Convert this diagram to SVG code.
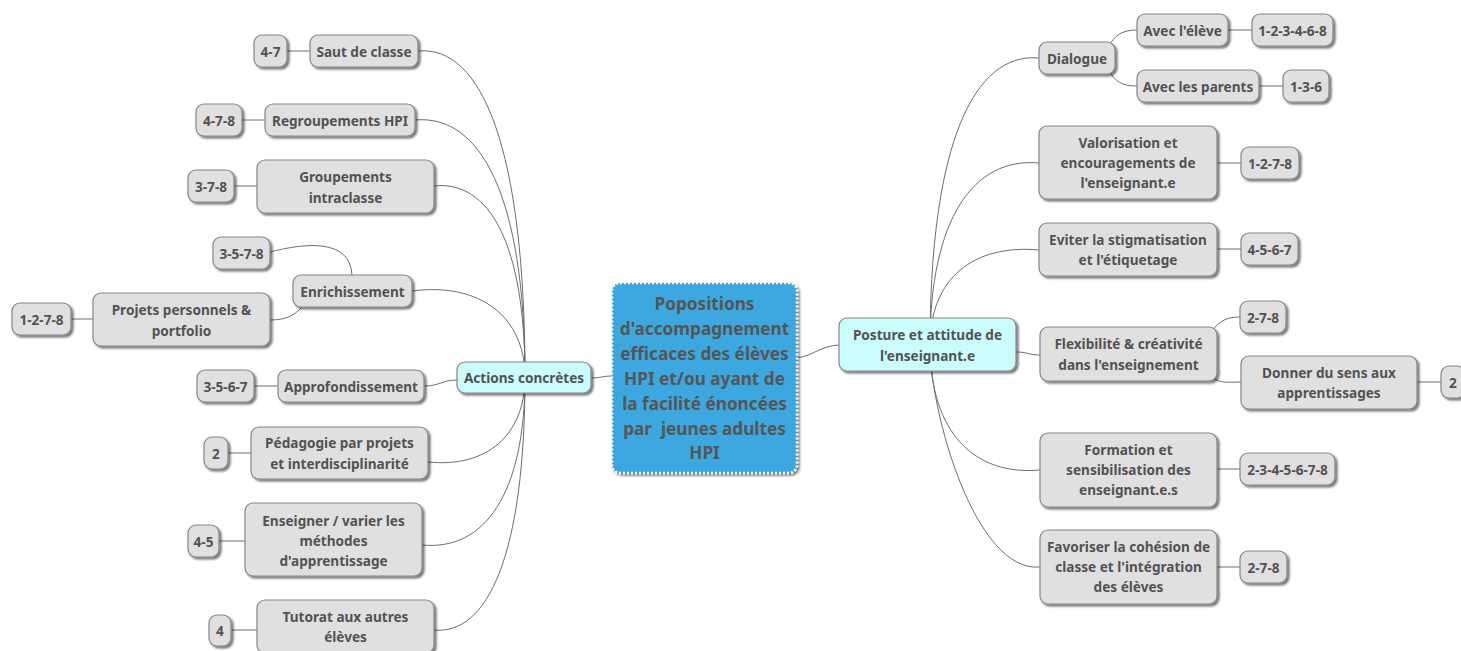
<svg xmlns="http://www.w3.org/2000/svg" width="1461" height="651" viewBox="0 0 1461 651">
<defs>
<filter id="sh" x="-10%" y="-10%" width="130%" height="140%">
<feDropShadow dx="2" dy="2" stdDeviation="1.2" flood-color="#000" flood-opacity="0.55"/>
</filter>
<style>
.n{fill:#e0e0e0;stroke:#858585;stroke-width:1.2;filter:url(#sh)}
.m{fill:#ccfdfd;stroke:#858585;stroke-width:1.2;filter:url(#sh)}
.c{fill:#3ea8df;stroke:#ffffff;stroke-width:2.5;stroke-dasharray:2 2;filter:url(#sh)}
text{font-family:"Noto Sans","Open Sans",sans-serif;font-weight:bold;font-size:13.6px;fill:#525252;text-anchor:middle;dominant-baseline:central}
.ct{font-size:17.2px;fill:#555}
#connectors path{fill:none;stroke:#6e6e6e;stroke-width:1}
</style>
</defs>
<rect width="1461" height="651" fill="#ffffff"/>
<g id="connectors">
<path d="M591,378 C600,378 603,376 612,376"/>
<path d="M797,358 C815,355 820,346 839,345"/>
<path d="M418,51 C482,45 525,149 525,377"/>
<path d="M415,120 C481,114 525,197 525,377"/>
<path d="M434,186 C489,180 525,243 525,377"/>
<path d="M412,291 C480,282 525,317 525,377"/>
<path d="M424,386 C440,386 442,380 457,380"/>
<path d="M428,462 C486,468 525,436 525,377"/>
<path d="M422,545 C484,551 525,495 525,377"/>
<path d="M433,630 C488,636 525,554 525,377"/>
<path d="M287,51 L310,51"/>
<path d="M242,120 L265,120"/>
<path d="M234,186 L257,186"/>
<path d="M270,252 C305,243 350,238 352,275"/>
<path d="M270,320 C286,320 295,315 302,307"/>
<path d="M71,319 L93,319"/>
<path d="M254,386 L278,386"/>
<path d="M228,453 L251,453"/>
<path d="M219,541 L245,541"/>
<path d="M231,630 L257,630"/>
<path d="M1039,58 C974,52 930,144 930,345"/>
<path d="M1039,163 C974,157 930,218 930,345"/>
<path d="M1039,250 C974,244 930,278 930,345"/>
<path d="M1016,352 C1028,352 1028,355 1040,355"/>
<path d="M1040,470 C975,476 930,433 930,345"/>
<path d="M1040,567 C975,573 930,412 930,345"/>
<path d="M1108,47 C1115,35 1122,30 1137,30"/>
<path d="M1108,69 C1115,82 1122,86 1137,86"/>
<path d="M1228,30 L1252,30"/>
<path d="M1259,86 L1283,86"/>
<path d="M1217,163 L1241,163"/>
<path d="M1217,249 L1241,249"/>
<path d="M1212,331 C1220,320 1228,317 1240,317"/>
<path d="M1212,377 C1220,384 1228,382 1241,382"/>
<path d="M1417,382 L1441,382"/>
<path d="M1217,469 L1240,469"/>
<path d="M1217,567 L1240,567"/>
</g>
<g id="central"><rect class="c" x="612" y="283" width="185" height="190" rx="8"/>
<text class="ct" x="704.5" y="303">Popositions</text>
<text class="ct" x="704.5" y="328">d'accompagnement</text>
<text class="ct" x="704.5" y="353">efficaces des élèves</text>
<text class="ct" x="704.5" y="378">HPI et/ou ayant de</text>
<text class="ct" x="704.5" y="403">la facilité énoncées</text>
<text class="ct" x="704.5" y="428" xml:space="preserve">par  jeunes adultes</text>
<text class="ct" x="704.5" y="452">HPI</text></g>
<g id="actions"><rect class="m" x="457" y="362" width="134" height="31" rx="8"/><text x="524" y="377.5">Actions concrètes</text></g>
<g id="posture"><rect class="m" x="839" y="318" width="177" height="53" rx="8"/><text x="927.5" y="334">Posture et attitude de</text><text x="927.5" y="355">l'enseignant.e</text></g>
<g id="saut"><rect class="n" x="310" y="35" width="108" height="32" rx="8"/><text x="364" y="51">Saut de classe</text></g>
<g id="saut-ref"><rect class="n" x="254" y="35" width="33" height="32" rx="8"/><text x="270.5" y="51">4-7</text></g>
<g id="regroup"><rect class="n" x="265" y="104" width="150" height="32" rx="8"/><text x="340" y="120">Regroupements HPI</text></g>
<g id="regroup-ref"><rect class="n" x="196" y="104" width="46" height="32" rx="8"/><text x="219" y="120">4-7-8</text></g>
<g id="groupements"><rect class="n" x="257" y="160" width="177" height="53" rx="8"/><text x="345.5" y="176">Groupements</text><text x="345.5" y="197">intraclasse</text></g>
<g id="groupements-ref"><rect class="n" x="188" y="170" width="46" height="32" rx="8"/><text x="211" y="186">3-7-8</text></g>
<g id="enrich"><rect class="n" x="293" y="275" width="119" height="32" rx="8"/><text x="352.5" y="291">Enrichissement</text></g>
<g id="enrich-ref"><rect class="n" x="213" y="237" width="57" height="32" rx="8"/><text x="241.5" y="253">3-5-7-8</text></g>
<g id="projets"><rect class="n" x="93" y="293" width="177" height="53" rx="8"/><text x="181.5" y="309">Projets personnels &amp;</text><text x="181.5" y="330">portfolio</text></g>
<g id="projets-ref"><rect class="n" x="12" y="303" width="59" height="32" rx="8"/><text x="41.5" y="319">1-2-7-8</text></g>
<g id="approf"><rect class="n" x="278" y="370" width="146" height="32" rx="8"/><text x="351" y="386">Approfondissement</text></g>
<g id="approf-ref"><rect class="n" x="197" y="370" width="57" height="32" rx="8"/><text x="225.5" y="386">3-5-6-7</text></g>
<g id="pedag"><rect class="n" x="251" y="427" width="177" height="52" rx="8"/><text x="339.5" y="442">Pédagogie par projets</text><text x="339.5" y="463">et interdisciplinarité</text></g>
<g id="pedag-ref"><rect class="n" x="204" y="437" width="24" height="32" rx="8"/><text x="216" y="453">2</text></g>
<g id="enseigner"><rect class="n" x="245" y="503" width="177" height="73" rx="8"/><text x="333.5" y="520">Enseigner / varier les</text><text x="333.5" y="540">méthodes</text><text x="333.5" y="560">d'apprentissage</text></g>
<g id="enseigner-ref"><rect class="n" x="188" y="525" width="31" height="32" rx="8"/><text x="203.5" y="541">4-5</text></g>
<g id="tutorat"><rect class="n" x="257" y="600" width="177" height="53" rx="8"/><text x="345.5" y="616">Tutorat aux autres</text><text x="345.5" y="636">élèves</text></g>
<g id="tutorat-ref"><rect class="n" x="209" y="615" width="22" height="31" rx="8"/><text x="220" y="630">4</text></g>
<g id="dialogue"><rect class="n" x="1039" y="42" width="76" height="32" rx="8"/><text x="1077" y="58">Dialogue</text></g>
<g id="eleve"><rect class="n" x="1137" y="14" width="91" height="32" rx="8"/><text x="1182.5" y="30">Avec l'élève</text></g>
<g id="eleve-ref"><rect class="n" x="1252" y="14" width="81" height="32" rx="8"/><text x="1292.5" y="30">1-2-3-4-6-8</text></g>
<g id="parents"><rect class="n" x="1137" y="70" width="122" height="32" rx="8"/><text x="1198" y="86">Avec les parents</text></g>
<g id="parents-ref"><rect class="n" x="1283" y="70" width="46" height="32" rx="8"/><text x="1306" y="86">1-3-6</text></g>
<g id="valor"><rect class="n" x="1039" y="126" width="178" height="73" rx="8"/><text x="1128" y="142">Valorisation et</text><text x="1128" y="162">encouragements de</text><text x="1128" y="182">l'enseignant.e</text></g>
<g id="valor-ref"><rect class="n" x="1241" y="147" width="58" height="32" rx="8"/><text x="1270" y="163">1-2-7-8</text></g>
<g id="eviter"><rect class="n" x="1039" y="223" width="178" height="53" rx="8"/><text x="1128" y="239">Eviter la stigmatisation</text><text x="1128" y="259">et l'étiquetage</text></g>
<g id="eviter-ref"><rect class="n" x="1241" y="233" width="57" height="32" rx="8"/><text x="1269.5" y="249">4-5-6-7</text></g>
<g id="flex"><rect class="n" x="1040" y="327" width="177" height="54" rx="8"/><text x="1128.5" y="343">Flexibilité &amp; créativité</text><text x="1128.5" y="364">dans l'enseignement</text></g>
<g id="flex-ref"><rect class="n" x="1240" y="301" width="46" height="32" rx="8"/><text x="1263" y="317">2-7-8</text></g>
<g id="donner"><rect class="n" x="1241" y="356" width="176" height="53" rx="8"/><text x="1329" y="372">Donner du sens aux</text><text x="1329" y="392">apprentissages</text></g>
<g id="donner-ref"><rect class="n" x="1441" y="366" width="24" height="32" rx="8"/><text x="1453" y="382">2</text></g>
<g id="formation"><rect class="n" x="1040" y="433" width="177" height="74" rx="8"/><text x="1128.5" y="449">Formation et</text><text x="1128.5" y="469">sensibilisation des</text><text x="1128.5" y="489">enseignant.e.s</text></g>
<g id="formation-ref"><rect class="n" x="1240" y="453" width="95" height="32" rx="8"/><text x="1287.5" y="469">2-3-4-5-6-7-8</text></g>
<g id="favoriser"><rect class="n" x="1040" y="530" width="177" height="74" rx="8"/><text x="1128.5" y="546">Favoriser la cohésion de</text><text x="1128.5" y="566">classe et l'intégration</text><text x="1128.5" y="586">des élèves</text></g>
<g id="favoriser-ref"><rect class="n" x="1240" y="551" width="47" height="32" rx="8"/><text x="1263.5" y="567">2-7-8</text></g>
</svg>
